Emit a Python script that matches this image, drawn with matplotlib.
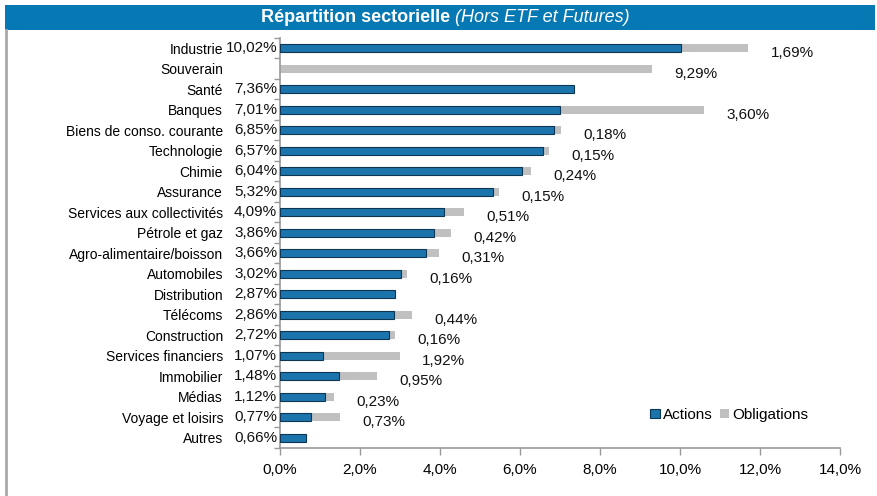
import numpy as np
import matplotlib
matplotlib.use('Agg')
import matplotlib.pyplot as plt
from matplotlib.patches import Rectangle, Patch
from matplotlib.lines import Line2D
import matplotlib.ticker as ticker

plt.rcParams['font.family'] = ['Liberation Sans', 'DejaVu Sans']

# --- data (in %) ---
secteurs = ['Industrie', 'Souverain', 'Santé', 'Banques', 'Biens de conso. courante',
            'Technologie', 'Chimie', 'Assurance', 'Services aux collectivités',
            'Pétrole et gaz', 'Agro-alimentaire/boisson', 'Automobiles', 'Distribution',
            'Télécoms', 'Construction', 'Services financiers', 'Immobilier', 'Médias',
            'Voyage et loisirs', 'Autres']
actions = [10.02, 0.0, 7.36, 7.01, 6.85, 6.57, 6.04, 5.32, 4.09, 3.86, 3.66, 3.02,
           2.87, 2.86, 2.72, 1.07, 1.48, 1.12, 0.77, 0.66]
obligations = [1.69, 9.29, 0.0, 3.60, 0.18, 0.15, 0.24, 0.15, 0.51, 0.42, 0.31, 0.16,
               0.0, 0.44, 0.16, 1.92, 0.95, 0.23, 0.73, 0.0]
xticks_vals = [0, 2, 4, 6, 8, 10, 12, 14]

blue = '#1C74AC'
blue_edge = '#0C3652'
grey = '#C0C0C0'
band = '#0678B3'

def fr(v, nd=2):
    return ('{0:.%df}%%' % nd).format(v).replace('.', ',')

fig = plt.figure(figsize=(8.78, 4.96), dpi=100)
ax = fig.add_axes([280/878, 1-448/496, 560/878, (448-38)/496])

y = np.arange(len(secteurs))
act = np.array(actions)
obl = np.array(obligations)
h = 0.4
ax.barh(y, act, height=h, color=blue, edgecolor=blue_edge,
        linewidth=[0.8 if v > 0 else 0 for v in act], zorder=3)
ax.barh(y, obl, left=act, height=h, color=grey, linewidth=0, zorder=2)

# labels
for i in range(len(secteurs)):
    if act[i] > 0:
        ax.annotate(fr(act[i]), xy=(0, y[i]), xytext=(-2, 0), textcoords='offset points',
                    ha='right', va='center', fontsize=11, color='#111111')
    if obl[i] > 0:
        ax.annotate(fr(obl[i]), xy=(act[i] + obl[i], y[i] + 0.25), xytext=(16, 0),
                    textcoords='offset points', ha='left', va='center', fontsize=11,
                    color='#111111')

ax.set_ylim(len(secteurs) - 0.5, -0.5)
ax.set_xlim(0, 14)
ax.set_yticks(y)
ax.set_yticklabels(secteurs, fontsize=10)
ax.tick_params(axis='y', length=0, pad=41)
ax.yaxis.set_minor_locator(ticker.FixedLocator(np.arange(-0.5, len(secteurs), 1.0)))
ax.tick_params(axis='y', which='minor', length=4, color='#999999', width=1)
ax.set_xticks(xticks_vals)
ax.set_xticklabels([fr(v, 1) for v in xticks_vals], fontsize=11)
ax.tick_params(axis='x', length=5, color='#999999', width=1, pad=6)
for s in ['top', 'right']:
    ax.spines[s].set_visible(False)
for s in ['left', 'bottom']:
    ax.spines[s].set_color('#999999')
    ax.spines[s].set_linewidth(1.2)

# legend
handles = [Patch(facecolor=blue, edgecolor=blue_edge, linewidth=0.8, label='Actions'),
           Patch(facecolor=grey, label='Obligations')]
ax.legend(handles=handles, loc='lower right', bbox_to_anchor=(0.968, 0.03), ncol=2,
          frameon=False, fontsize=11, handlelength=0.6, handleheight=0.6,
          handletextpad=0.2, columnspacing=0.5)

# title band and frame
fig.patches.append(Rectangle((5/878, 1-30/496), 870/878, 25/496, transform=fig.transFigure,
                             facecolor=band, edgecolor='none'))
fig.lines.append(Line2D([6/878, 6/878], [1-495/496, 1-30/496], transform=fig.transFigure,
                        color='#A8A8A8', lw=2))
fig.text(450/878, 1-18/496, 'Répartition sectorielle', ha='right', va='center',
         fontsize=13, fontweight='bold', color='white')
fig.text(455/878, 1-18/496, '(Hors ETF et Futures)', ha='left', va='center',
         fontsize=13, fontstyle='italic', color='white')

fig.savefig('out.png', dpi=100)
